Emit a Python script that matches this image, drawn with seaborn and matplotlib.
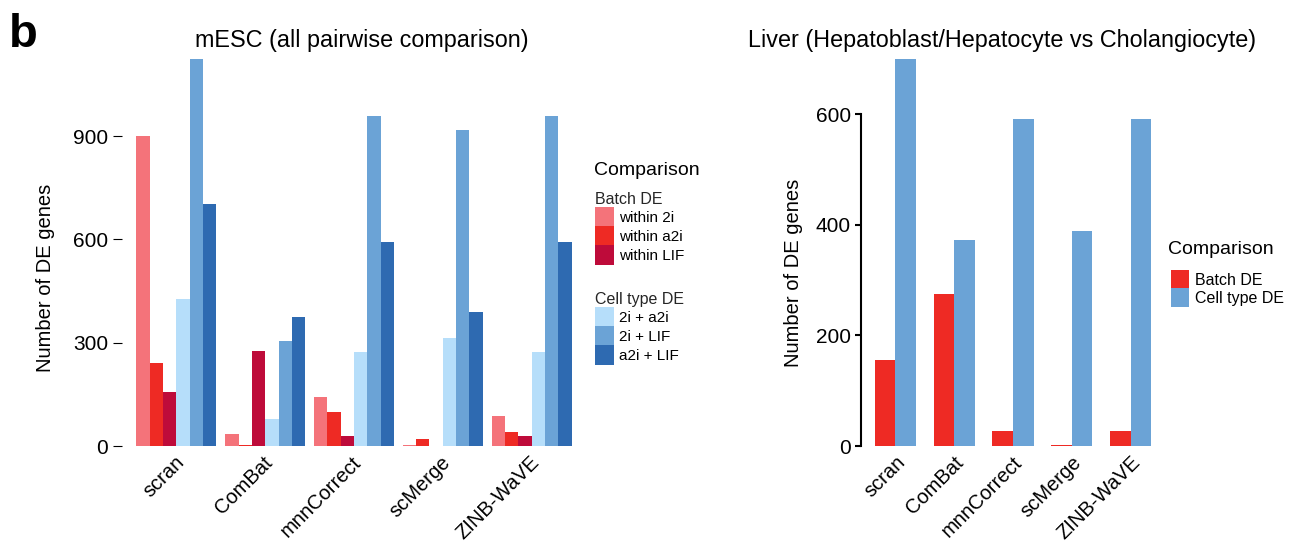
import matplotlib
matplotlib.use("Agg")
import matplotlib.pyplot as plt
import matplotlib.transforms as mtransforms
from matplotlib.patches import Patch
from matplotlib.font_manager import FontProperties, findfont
import pandas as pd
import seaborn as sns

# ---------------- data ----------------
methods = ["scran", "ComBat", "mnnCorrect", "scMerge", "ZINB-WaVE"]

mesc_groups = ["within 2i", "within a2i", "within LIF", "2i + a2i", "2i + LIF", "a2i + LIF"]
within_2i = [900, 35, 142, 4, 87]
within_a2i = [240, 3, 99, 20, 41]
within_lif = [157, 276, 30, 1, 30]
ct_2i_a2i = [427, 78, 273, 314, 273]
ct_2i_lif = [1124, 305, 958, 917, 958]
ct_a2i_lif = [703, 375, 592, 389, 592]

liver_groups = ["Batch DE", "Cell type DE"]
liver_batch = [155, 275, 28, 2, 28]
liver_celltype = [700, 372, 591, 388, 591]

mesc_colors = ["#F4737A", "#EE2A24", "#BE0B3A", "#B6DEFA", "#6BA3D6", "#2E6AB1"]
liver_colors = ["#EE2A24", "#6BA3D6"]

# ---------------- style ----------------
sns.set_theme(style="white")
plt.rcParams["font.family"] = ["Liberation Sans", "DejaVu Sans"]


def has_font(name):
    try:
        findfont(FontProperties(family=name), fallback_to_default=False)
        return True
    except Exception:
        return False


narrow = "Liberation Sans Narrow" if has_font("Liberation Sans Narrow") else "Liberation Sans"

W, H = 1291, 551
fig = plt.figure(figsize=(W / 100, H / 100), dpi=100)


def fx(px):
    return px / W


def fy(py):
    return 1 - py / H


ax1 = fig.add_axes([fx(132), fy(446), (576 - 132) / W, (446 - 59) / H])
ax2 = fig.add_axes([fx(866), fy(446), (1160 - 866) / W, (446 - 59) / H])

# ---------------- long-form tables ----------------
mesc_series = [within_2i, within_a2i, within_lif, ct_2i_a2i, ct_2i_lif, ct_a2i_lif]
rows = []
for g, vals in zip(mesc_groups, mesc_series):
    for m, v in zip(methods, vals):
        rows.append({"Method": m, "Comparison": g, "Count": v})
df_mesc = pd.DataFrame(rows)

rows = []
for g, vals in zip(liver_groups, [liver_batch, liver_celltype]):
    for m, v in zip(methods, vals):
        rows.append({"Method": m, "Comparison": g, "Count": v})
df_liver = pd.DataFrame(rows)

sns.barplot(data=df_mesc, x="Method", y="Count", hue="Comparison", order=methods,
            hue_order=mesc_groups, palette=mesc_colors, saturation=1, width=0.9,
            errorbar=None, legend=False, linewidth=0, ax=ax1)
sns.barplot(data=df_liver, x="Method", y="Count", hue="Comparison", order=methods,
            hue_order=liver_groups, palette=liver_colors, saturation=1, width=0.7,
            errorbar=None, legend=False, linewidth=0, ax=ax2)

# ---------------- axes styling ----------------
px2pt = 0.72
for ax, xoff in ((ax1, -2), (ax2, 0)):
    ax.set_xlim(-0.5, len(methods) - 0.5)
    ax.set_xlabel("")
    ax.set_ylabel("Number of DE genes", fontsize=14.5, color="black")
    for s in ("top", "right", "bottom"):
        ax.spines[s].set_visible(False)
    ax.set_xticks(range(len(methods)))
    ax.set_xticklabels(methods, rotation=45, ha="right", va="top",
                       rotation_mode="anchor", fontsize=14.5, color="black")
    ax.tick_params(axis="x", bottom=False, length=0, pad=5)
    off = mtransforms.ScaledTranslation(xoff / 100, 0, fig.dpi_scale_trans)
    for lab in ax.get_xticklabels():
        lab.set_transform(lab.get_transform() + off)

ax1.set_ylim(0, max(ct_2i_lif))
ax1.set_yticks([0, 300, 600, 900])
ax1.spines["left"].set_position(("outward", 10 * px2pt))
ax1.spines["left"].set_visible(False)
ax1.tick_params(axis="y", left=True, length=9 * px2pt, width=0.8, pad=3.6,
                labelsize=15, colors="black")
ax1.yaxis.set_label_coords((55 - 132) / (576 - 132), (446 - 277.5) / 387)

ax2.set_ylim(0, 700)
ax2.set_yticks([0, 200, 400, 600])
ax2.spines["left"].set_position(("outward", 5 * px2pt))
ax2.spines["left"].set_color("black")
ax2.spines["left"].set_linewidth(1.5)
ax2.spines["left"].set_bounds(0, 600)
ax2.tick_params(axis="y", left=True, length=6 * px2pt, width=1.5, pad=2.9,
                labelsize=15, colors="black")
ax2.yaxis.set_label_coords((803 - 866) / (1160 - 866), (446 - 272.7) / 387)

ax1.set_title("mESC (all pairwise comparison)", fontsize=16.8, x=0.518, pad=9, color="black")
ax2.set_title("Liver (Hepatoblast/Hepatocyte vs Cholangiocyte)", fontsize=16.8, x=0.463,
              pad=9, color="black")

# ---------------- legends ----------------
fig.text(fx(594), fy(175), "Comparison", fontsize=14, va="baseline", ha="left", color="black")

leg_kw = dict(loc="upper left", frameon=False, borderpad=0, borderaxespad=0,
              labelspacing=0, alignment="left")

h_batch = [Patch(facecolor=c, edgecolor="none", label=l)
           for c, l in zip(mesc_colors[:3], mesc_groups[:3])]
h_cell = [Patch(facecolor=c, edgecolor="none", label=l)
          for c, l in zip(mesc_colors[3:], mesc_groups[3:])]

legA = fig.legend(handles=h_batch, title="Batch DE", bbox_to_anchor=(fx(595), fy(192)),
                  prop=FontProperties(family=narrow, size=11),
                  title_fontproperties=FontProperties(family=narrow, size=11.5),
                  handlelength=1.24, handleheight=1.56, handletextpad=0.35, **leg_kw)
legB = fig.legend(handles=h_cell, title="Cell type DE", bbox_to_anchor=(fx(595), fy(292)),
                  prop=FontProperties(family=narrow, size=11),
                  title_fontproperties=FontProperties(family=narrow, size=11.5),
                  handlelength=1.24, handleheight=1.56, handletextpad=0.35, **leg_kw)

fig.text(fx(1168), fy(254), "Comparison", fontsize=14, va="baseline", ha="left", color="black")
h_liver = [Patch(facecolor=c, edgecolor="none", label=l)
           for c, l in zip(liver_colors, liver_groups)]
legC = fig.legend(handles=h_liver, bbox_to_anchor=(fx(1171), fy(270)),
                  prop=FontProperties(family=narrow, size=11.5),
                  handlelength=1.125, handleheight=1.40, handletextpad=0.4, **leg_kw)
for lg in (legA, legB, legC):
    for t in lg.get_texts():
        t.set_color("black")

fig.text(fx(9), fy(46.7), "b", fontsize=34, fontweight="bold", va="baseline", ha="left",
         color="black")

fig.savefig("out.png", dpi=100)
